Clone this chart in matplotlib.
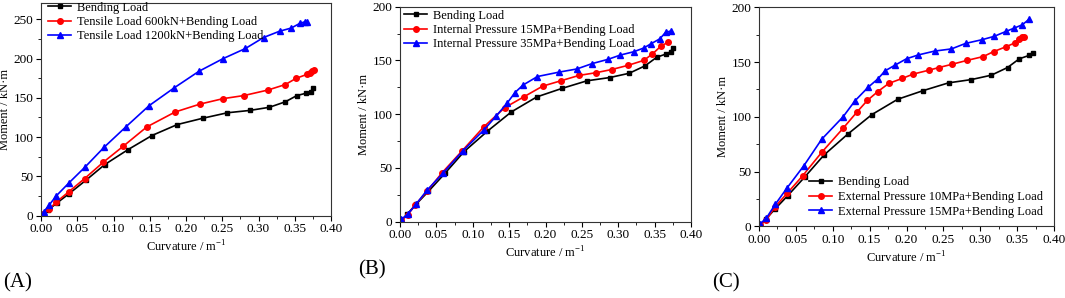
import matplotlib
matplotlib.use('Agg')
import matplotlib.pyplot as plt
from matplotlib.ticker import MultipleLocator

plt.rcParams['font.family'] = ['Liberation Serif', 'DejaVu Serif']
plt.rcParams['mathtext.fontset'] = 'custom'
plt.rcParams['mathtext.rm'] = 'Liberation Serif'

# 纯弯曲 (common to all panels)
bend_x = [0.002, 0.010, 0.022, 0.039, 0.062, 0.088, 0.120, 0.153, 0.188, 0.223,
          0.257, 0.288, 0.315, 0.337, 0.353, 0.366, 0.372, 0.375]
bend_y = [1, 7, 16, 28, 45, 65, 84, 102, 116, 124,
          131, 134, 138, 145, 153, 156, 158, 162]

# (A) tensile load
t600_x = [0.003, 0.011, 0.021, 0.038, 0.060, 0.086, 0.113, 0.146, 0.185, 0.219,
          0.251, 0.280, 0.313, 0.337, 0.352, 0.367, 0.371, 0.374, 0.377]
t600_y = [2, 8, 17, 30, 47, 68, 88, 113, 132, 142,
          149, 153, 160, 167, 175, 180, 182, 184, 185]
t1200_x = [0.004, 0.011, 0.021, 0.039, 0.061, 0.087, 0.117, 0.149, 0.184, 0.218,
           0.251, 0.282, 0.307, 0.329, 0.345, 0.357, 0.364, 0.367]
t1200_y = [5, 13, 25, 42, 62, 87, 113, 140, 163, 184,
           200, 213, 227, 235, 239, 245, 247, 247]

# (B) internal pressure
ip15_x = [0.002, 0.011, 0.021, 0.037, 0.058, 0.085, 0.115, 0.144, 0.170, 0.196,
          0.221, 0.246, 0.269, 0.291, 0.314, 0.335, 0.347, 0.359, 0.369]
ip15_y = [1, 6.5, 15.5, 28, 45.5, 65.5, 88, 106, 116, 126,
          131, 136, 138.5, 141.5, 145.5, 150, 156, 163.5, 167]
ip35_x = [0.002, 0.011, 0.022, 0.037, 0.059, 0.086, 0.115, 0.132, 0.147, 0.158,
          0.169, 0.189, 0.218, 0.243, 0.264, 0.286, 0.303, 0.321, 0.335, 0.345,
          0.357, 0.365, 0.373]
ip35_y = [2, 7, 16, 29, 45, 65.5, 85, 98, 110, 120,
          127, 135, 139, 142, 147, 151, 155, 158, 161.5, 165.5,
          170, 176, 177.5]

# (C) external pressure
ep10_x = [0.001, 0.010, 0.022, 0.038, 0.059, 0.085, 0.114, 0.133, 0.147, 0.161,
          0.176, 0.194, 0.209, 0.230, 0.244, 0.262, 0.282, 0.304, 0.318, 0.335,
          0.347, 0.352, 0.357, 0.359]
ep10_y = [1, 6, 18, 30, 46, 67.5, 89.5, 104.5, 115, 123,
          130.5, 135, 139, 142.5, 145, 148, 151.5, 155, 159.5, 164,
          167.5, 171, 172.5, 173]
ep15_x = [0.001, 0.010, 0.022, 0.038, 0.061, 0.085, 0.114, 0.130, 0.148, 0.161,
          0.171, 0.184, 0.200, 0.216, 0.238, 0.261, 0.280, 0.303, 0.319, 0.335,
          0.346, 0.357, 0.366]
ep15_y = [2, 7.5, 20, 35, 55.5, 79.5, 100, 114.5, 127, 134.5,
          142, 147, 153, 156.5, 160, 162, 167, 170.5, 173.5, 178,
          181, 184, 189]

fig = plt.figure(figsize=(10.65, 2.98), dpi=100)
W, H = 1065, 298


def make_ax(l, r, b, t):
    return fig.add_axes([l / W, 1 - b / H, (r - l) / W, (b - t) / H])


def style(ax, ymax, ymajor):
    ax.set_xlim(0, 0.40)
    ax.set_ylim(0, ymax)
    ax.xaxis.set_major_locator(MultipleLocator(0.05))
    ax.xaxis.set_minor_locator(MultipleLocator(0.025))
    ax.yaxis.set_major_locator(MultipleLocator(ymajor))
    ax.yaxis.set_minor_locator(MultipleLocator(ymajor / 2))
    ax.xaxis.set_major_formatter(plt.FuncFormatter(lambda v, p: f'{v:.2f}'))
    ax.tick_params(which='major', direction='out', length=3.5, width=0.8,
                   labelsize=9.5, pad=2, top=False, right=False)
    ax.tick_params(which='minor', direction='out', length=2, width=0.6,
                   top=False, right=False)
    for s in ax.spines.values():
        s.set_color('#333333')
        s.set_linewidth(0.8)
    ax.set_xlabel('Curvature / m$^{-1}$', fontsize=9, labelpad=3)
    ax.set_ylabel('Moment / kN·m', fontsize=9, labelpad=2)


def add_legend(ax, x_px, y_px):
    # anchor given in figure pixels (upper left corner)
    ax.legend(loc='upper left', bbox_to_anchor=(x_px / W, 1 - y_px / H),
              bbox_transform=fig.transFigure, frameon=False, fontsize=9,
              handlelength=1.85, handletextpad=0.45, labelspacing=0.2,
              borderaxespad=0, borderpad=0)


kw = dict(linewidth=1.2, markersize=4)
kb = dict(linewidth=1.2, markersize=3.5)

# (A)
ax1 = make_ax(41, 331, 215.5, 3)
ax1.plot(bend_x, bend_y, '-s', color='black', label='Bending Load', **kb)
ax1.plot(t600_x, t600_y, '-o', color='red', label='Tensile Load 600kN+Bending Load', **kw)
ax1.plot(t1200_x, t1200_y, '-^', color='blue', label='Tensile Load 1200kN+Bending Load', **kw)
style(ax1, 271, 50)
add_legend(ax1, 48, 1.5)

# (B)
ax2 = make_ax(400, 691, 221.5, 6.7)
ax2.plot(bend_x, bend_y, '-s', color='black', label='Bending Load', **kb)
ax2.plot(ip15_x, ip15_y, '-o', color='red', label='Internal Pressure 15MPa+Bending Load', **kw)
ax2.plot(ip35_x, ip35_y, '-^', color='blue', label='Internal Pressure 35MPa+Bending Load', **kw)
style(ax2, 200, 50)
add_legend(ax2, 404, 9.5)

# (C)
ax3 = make_ax(759, 1054, 226.3, 7.3)
ax3.plot(bend_x[:-1], bend_y[:-1], '-s', color='black', label='Bending Load', **kb)
ax3.plot(ep10_x, ep10_y, '-o', color='red', label='External Pressure 10MPa+Bending Load', **kw)
ax3.plot(ep15_x, ep15_y, '-^', color='blue', label='External Pressure 15MPa+Bending Load', **kw)
style(ax3, 200, 50)
add_legend(ax3, 809, 176.5)

fig.text(3 / W, 1 - 283 / H, '(A)', fontsize=15, va='center', ha='left')
fig.text(358 / W, 1 - 270 / H, '(B)', fontsize=15, va='center', ha='left')
fig.text(712 / W, 1 - 283 / H, '(C)', fontsize=15, va='center', ha='left')

fig.savefig('out.png', dpi=100)
